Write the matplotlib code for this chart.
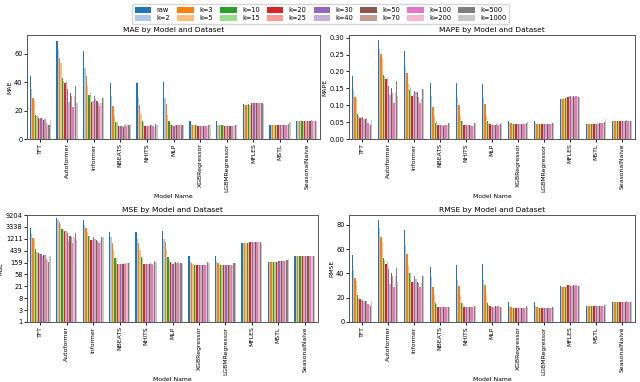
import numpy as np
import matplotlib
matplotlib.use("Agg")
import matplotlib.pyplot as plt

models = ["TFT", "Autoformer", "Informer", "NBEATS", "NHITS", "MLP",
          "XGBRegressor", "LGBMRegressor", "MFLES", "MSTL", "SeasonalNaive"]
series = ["raw", "k=2", "k=3", "k=5", "k=10", "k=15", "k=20", "k=25", "k=30",
          "k=40", "k=50", "k=70", "k=100", "k=200", "k=500", "k=1000"]

# rows: models, columns: series
mae = [
    [44, 35, 29, 27, 17, 16, 15, 14, 14.5, 14, 13.5, 14, 11, 10, 9.5, 13],
    [69, 63, 57, 53, 43, 41, 39, 41, 35, 26, 32.5, 30, 22.5, 30, 37, 25],
    [62, 50, 44, 37, 31, 32.5, 26, 27, 30, 28, 27, 25, 23, 25, 28.5, 28.5],
    [39, 30.5, 23, 17, 12, 12, 9, 9, 9, 9, 8.5, 10, 9, 9.5, 10, 10],
    [39.5, 29, 24, 17.5, 12.5, 12, 9, 9, 9, 9, 9.5, 9.5, 9, 8.5, 10.5, 10],
    [40, 28.5, 24.5, 17, 12.5, 11, 10, 9.5, 9, 9.5, 10, 9.5, 9.5, 9, 9.5, 10],
    [12.5, 10.5, 10, 10, 9.5, 9.5, 9, 9, 9, 9, 9, 9, 9, 9, 10, 10],
    [12.5, 10, 10, 9.5, 9.5, 9.5, 9, 9, 9, 9, 9, 9, 9, 9, 10, 10],
    [24.5, 24, 24, 24, 24.5, 24, 25.5, 25, 25.5, 25, 25.5, 25, 25.5, 25.5, 25, 24.5],
    [9.5, 9.5, 9.5, 9.5, 9.5, 9.5, 9.5, 9.5, 10, 10, 10, 10, 10, 10, 10.5, 12],
    [12.5, 12.5, 12.5, 12.5, 12.5, 12.5, 12.5, 12.5, 12.5, 12.5, 12.5, 13, 12.5, 12.5, 12.5, 12.5],
]
mape = [
    [0.188, 0.145, 0.125, 0.12, 0.074, 0.068, 0.063, 0.062, 0.064, 0.06, 0.058, 0.062, 0.048, 0.045, 0.042, 0.057],
    [0.293, 0.268, 0.252, 0.24, 0.19, 0.186, 0.177, 0.182, 0.157, 0.13, 0.15, 0.135, 0.107, 0.14, 0.173, 0.127],
    [0.262, 0.213, 0.194, 0.162, 0.145, 0.155, 0.128, 0.13, 0.143, 0.138, 0.14, 0.124, 0.107, 0.118, 0.149, 0.148],
    [0.165, 0.127, 0.095, 0.072, 0.048, 0.052, 0.04, 0.04, 0.04, 0.04, 0.038, 0.042, 0.04, 0.042, 0.046, 0.048],
    [0.167, 0.121, 0.1, 0.072, 0.052, 0.052, 0.04, 0.04, 0.04, 0.04, 0.04, 0.042, 0.038, 0.038, 0.048, 0.046],
    [0.164, 0.12, 0.103, 0.072, 0.052, 0.048, 0.045, 0.042, 0.04, 0.042, 0.042, 0.044, 0.042, 0.042, 0.044, 0.046],
    [0.054, 0.047, 0.046, 0.045, 0.045, 0.044, 0.043, 0.043, 0.043, 0.043, 0.043, 0.043, 0.043, 0.043, 0.048, 0.049],
    [0.054, 0.046, 0.045, 0.045, 0.044, 0.044, 0.043, 0.043, 0.043, 0.043, 0.043, 0.043, 0.043, 0.043, 0.047, 0.047],
    [0.119, 0.119, 0.119, 0.119, 0.12, 0.12, 0.125, 0.127, 0.126, 0.124, 0.127, 0.124, 0.126, 0.126, 0.124, 0.123],
    [0.043, 0.043, 0.043, 0.043, 0.043, 0.043, 0.044, 0.044, 0.045, 0.045, 0.046, 0.046, 0.046, 0.047, 0.05, 0.06],
    [0.054, 0.054, 0.054, 0.054, 0.054, 0.054, 0.054, 0.054, 0.054, 0.054, 0.054, 0.056, 0.054, 0.054, 0.054, 0.054],
]
mse = [
    [3000, 1850, 1330, 1160, 510, 400, 360, 325, 340, 290, 305, 305, 210, 195, 170, 290],
    [7080, 5900, 4900, 4350, 2800, 2600, 2300, 2400, 1940, 960, 1600, 1450, 810, 1450, 1980, 1090],
    [5780, 3970, 3140, 2120, 1600, 1600, 1090, 1090, 1440, 1220, 1090, 1020, 840, 1020, 1400, 1400],
    [2070, 1370, 810, 480, 240, 225, 144, 144, 144, 144, 144, 156, 144, 156, 156, 156],
    [2160, 1190, 870, 480, 256, 240, 144, 144, 144, 144, 144, 156, 144, 132, 182, 169],
    [2300, 1190, 930, 480, 256, 196, 169, 156, 144, 156, 169, 156, 169, 144, 156, 144],
    [272, 182, 156, 144, 132, 132, 132, 132, 132, 132, 132, 132, 132, 132, 169, 156],
    [272, 182, 156, 144, 132, 132, 132, 132, 132, 132, 132, 132, 132, 132, 156, 156],
    [870, 840, 840, 840, 840, 870, 930, 930, 900, 900, 930, 900, 930, 900, 900, 870],
    [169, 169, 169, 169, 169, 169, 169, 169, 182, 182, 182, 182, 182, 182, 196, 225],
    [272, 272, 272, 272, 272, 272, 272, 272, 272, 272, 272, 289, 272, 272, 272, 272],
]
rmse = [
    [55, 43, 36.5, 34, 22.5, 20, 19, 18, 18.5, 17, 17.5, 17.5, 14.5, 14, 13, 17],
    [84, 77, 70, 66, 53, 51, 48, 49, 44, 31, 40, 38, 28.5, 38, 44.5, 33],
    [76, 63, 56, 46, 40, 40, 33, 33, 38, 35, 33, 32, 29, 32, 37.5, 37.5],
    [45.5, 37, 28.5, 22, 15.5, 15, 12, 12, 12, 12, 12, 12.5, 12, 12.5, 12.5, 12.5],
    [46.5, 34.5, 29.5, 22, 16, 15.5, 12, 12, 12, 12, 12, 12.5, 12, 11.5, 13.5, 13],
    [48, 34.5, 30.5, 22, 16, 14, 13, 12.5, 12, 12.5, 13, 12.5, 13, 12, 12.5, 12],
    [16.5, 13.5, 12.5, 12, 11.5, 11.5, 11.5, 11.5, 11.5, 11.5, 11.5, 11.5, 11.5, 11.5, 13, 12.5],
    [16.5, 13.5, 12.5, 12, 11.5, 11.5, 11.5, 11.5, 11.5, 11.5, 11.5, 11.5, 11.5, 11.5, 12.5, 12.5],
    [29.5, 29, 29, 29, 29, 29.5, 30.5, 30.5, 30, 30, 30.5, 30, 30.5, 30, 30, 29.5],
    [13, 13, 13, 13, 13, 13, 13, 13, 13.5, 13.5, 13.5, 13.5, 13.5, 13.5, 14, 15],
    [16.5, 16.5, 16.5, 16.5, 16.5, 16.5, 16.5, 16.5, 16.5, 16.5, 16.5, 17, 16.5, 16.5, 16.5, 16.5],
]
mse_top = 9204

colors = plt.get_cmap("tab20").colors

fig = plt.figure(figsize=(6.4, 3.82), dpi=100)
W, H = 640, 382
def ax_at(x0, y0, x1, y1):
    return fig.add_axes([x0 / W, 1 - y1 / H, (x1 - x0) / W, (y1 - y0) / H])

panels = [
    (ax_at(27, 35, 320, 139), mae, "MAE", False, 73),
    (ax_at(349, 35, 635, 139), mape, "MAPE", False, 0.308),
    (ax_at(27, 215, 318, 322), mse, "MSE", True, None),
    (ax_at(349, 215, 635, 322), rmse, "RMSE", False, 88),
]

n = len(series)
bw = 0.8 / n
x = np.arange(len(models))
handles = None
for ax, data, name, logy, top in panels:
    arr = np.array(data, dtype=float)
    hs = []
    for j, s in enumerate(series):
        pos = x - 0.4 + bw * (j + 0.5)
        if logy:
            h = ax.bar(pos, arr[:, j] - 1, bw, bottom=1, color=colors[j], label=s)
        else:
            h = ax.bar(pos, arr[:, j], bw, color=colors[j], label=s)
        hs.append(h)
    handles = hs
    ax.set_xlim(-0.5, len(models) - 0.5)
    ax.set_xticks(x)
    ax.set_xticklabels(models, rotation=90, fontsize=4.4)
    ax.tick_params(axis="y", labelsize=4.8, length=2, pad=1.2, width=0.6)
    ax.tick_params(axis="x", length=2, pad=1.2, width=0.6)
    ax.set_title(f"{name} by Model and Dataset", fontsize=5.4, pad=2.5)
    ax.set_ylabel(name, fontsize=4.4, labelpad=1.5)
    ax.set_xlabel("Model Name", fontsize=4.4, labelpad=1.5)
    for sp in ax.spines.values():
        sp.set_linewidth(0.7)
        sp.set_color("#555555")
    if logy:
        ax.set_yscale("log")
        ax.set_ylim(1, mse_top)
        ticks = np.logspace(0, np.log10(mse_top), 10)
        ax.set_yticks(ticks)
        ax.set_yticklabels([str(int(round(t))) for t in ticks])
        ax.yaxis.set_minor_locator(matplotlib.ticker.NullLocator())
    else:
        ax.set_ylim(0, top)

fig.legend(handles, series, loc="upper center", ncol=8, fontsize=4.8,
           bbox_to_anchor=(0.501, 0.997), frameon=True, handlelength=2.5,
           handleheight=1.0, columnspacing=1.05, handletextpad=0.8,
           borderpad=0.35, labelspacing=0.3, edgecolor="#cccccc")

fig.savefig("out.png", dpi=100)
